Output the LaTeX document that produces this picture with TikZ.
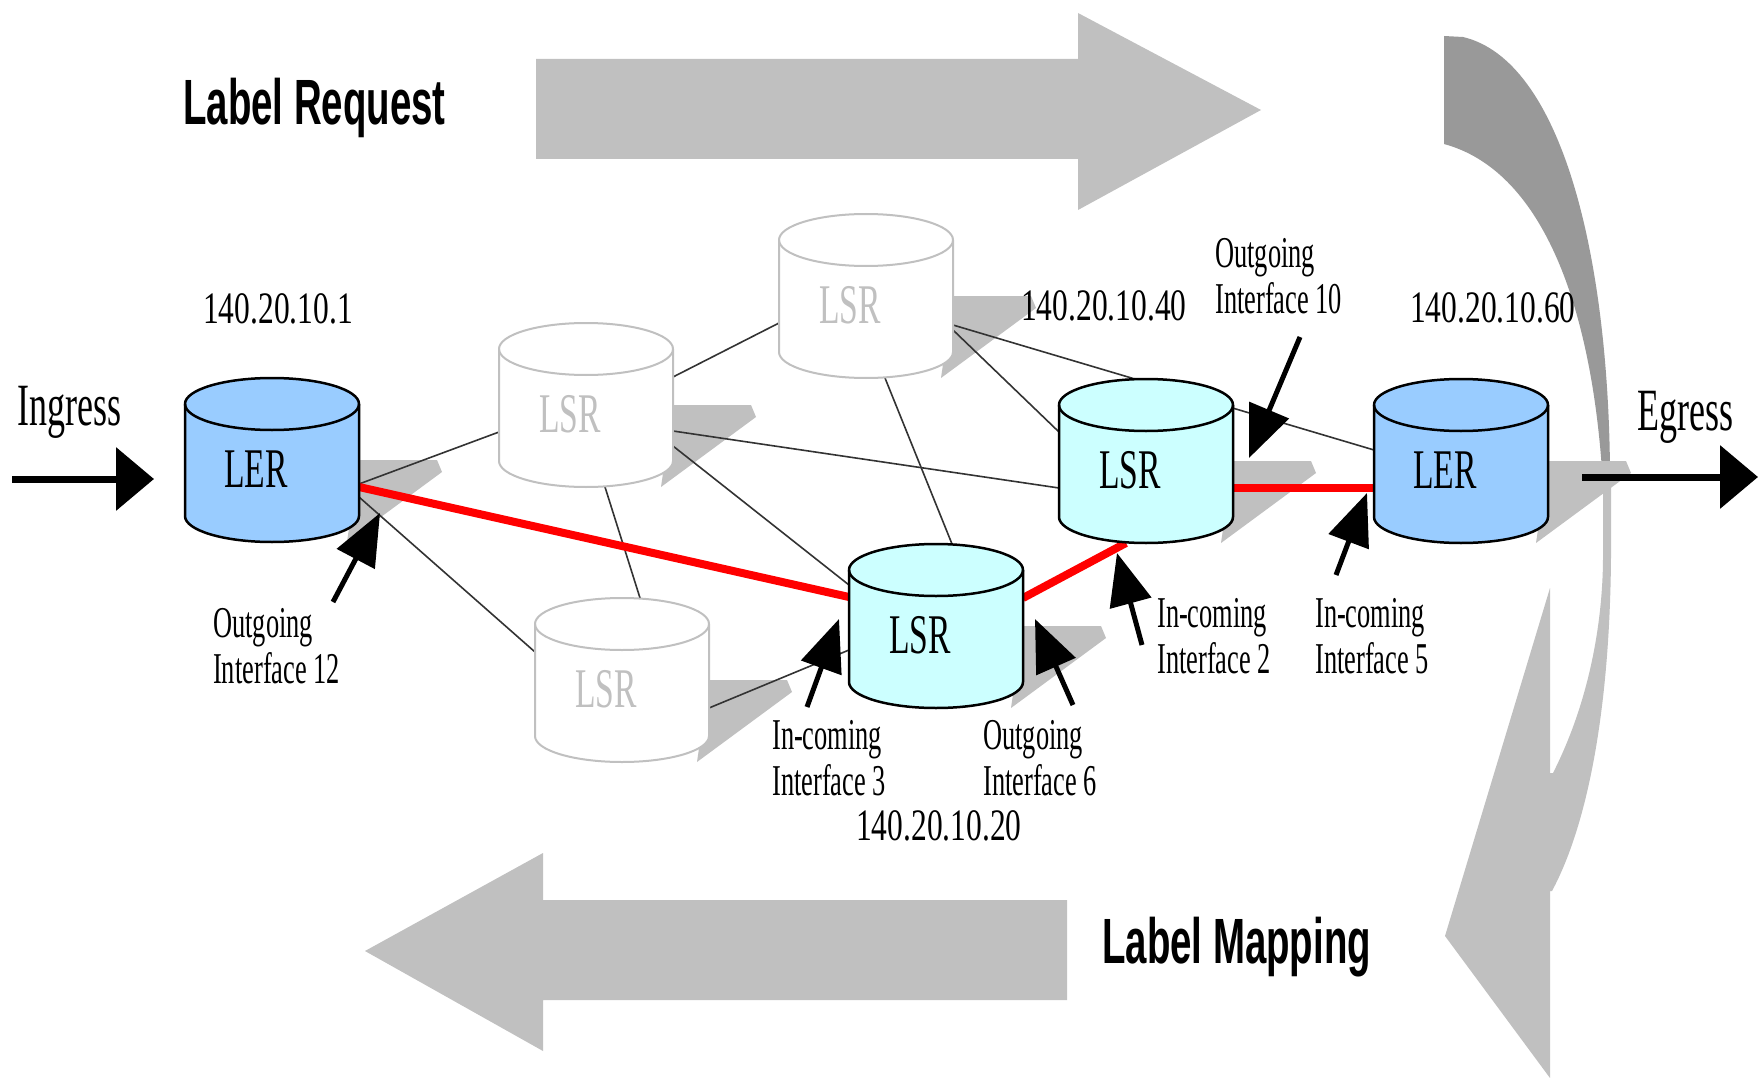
\documentclass[tikz,border=0pt]{standalone}
\usepackage{fontspec}
\usetikzlibrary{arrows.meta}

\newfontfamily\routerfont[FakeStretch=0.6]{Liberation Serif}
\newfontfamily\ipfont[FakeStretch=0.7]{Liberation Serif}
\newfontfamily\msgfont[FakeStretch=0.6]{Liberation Sans}

\definecolor{lerblue}{HTML}{99CCFF}
\definecolor{lsrcyan}{HTML}{CCFFFF}
\definecolor{shadegray}{HTML}{C0C0C0}
\definecolor{bandgray}{HTML}{999999}
\definecolor{linkred}{HTML}{FF0000}

\tikzset{
	router/.style={rectangle, minimum width=174pt, minimum height=164pt, inner sep=0pt, outer sep=0pt},
	lerdrum/.style={fill=lerblue, draw=black, line width=2.5pt},
	lsrdrum/.style={fill=lsrcyan, draw=black, line width=2.5pt},
	idledrum/.style={fill=white, draw=shadegray, line width=2pt},
	drumtext/.style={anchor=base, inner sep=0pt, font=\routerfont\fontsize{56}{60}\selectfont},
	idletext/.style={drumtext, text=shadegray},
	dropshade/.style={fill=shadegray},
	bigarrow/.style={fill=shadegray},
	link/.style={draw=black!80, line width=1.6pt},
	redlink/.style={draw=linkred, line width=8pt},
	pointer/.style={line width=5pt, -{Triangle[length=52pt, width=42pt]}},
	flow/.style={line width=7pt, -{Triangle[length=38pt, width=62pt]}},
	note/.style={anchor=base west, align=left, inner sep=0pt, font=\routerfont\fontsize{44}{46}\selectfont},
	port/.style={anchor=base west, inner sep=0pt, font=\routerfont\fontsize{60}{64}\selectfont},
	ipaddr/.style={anchor=base west, inner sep=0pt, font=\ipfont\fontsize{45}{48}\selectfont},
	msg/.style={anchor=base west, inner sep=0pt, font=\msgfont\bfseries\fontsize{64}{70}\selectfont}
}

% cylinder drawn round an (empty) router node
\newcommand{\drum}[2]{%
	\filldraw[#2] ([yshift=-26pt]#1.north west) -- ([yshift=26pt]#1.south west)
		arc[start angle=180, end angle=360, x radius=87pt, y radius=26pt]
		-- ([yshift=-26pt]#1.north east)
		arc[start angle=0, end angle=180, x radius=87pt, y radius=26pt] -- cycle;
	\draw[#2, fill=none] ([yshift=-26pt]#1.north west)
		arc[start angle=180, end angle=360, x radius=87pt, y radius=26pt];
}

\begin{document}
\begin{tikzpicture}[x=1pt, y=-1pt]
	\path[use as bounding box, fill=white] (0,0) rectangle (1759,1078);

	% routers
	\node[router] (lerIn) at (272,460) {};
	\node[router] (lsrLeft) at (586,405) {};
	\node[router] (lsrTop) at (866,296) {};
	\node[router] (lsrLow) at (622,680) {};
	\node[router] (lsrMid) at (936,626) {};
	\node[router] (lsrRight) at (1146,461) {};
	\node[router] (lerOut) at (1461,461) {};

	% request / mapping arrows
	\fill[bigarrow] (536,59) -- (1078,59) -- (1078,13) -- (1261,110) -- (1078,210) -- (1078,159) -- (536,159) -- cycle;
	\fill[bigarrow] (1067,900) -- (543,900) -- (543,853) -- (365,951) -- (543,1051) -- (543,1000) -- (1067,1000) -- cycle;
	\fill[bandgray] (1444,36) -- (1463,37) .. controls (1560,60) and (1608,250) .. (1610,470)
		-- (1602,470) .. controls (1590,300) and (1540,170) .. (1444,144) -- cycle;
	\fill[shadegray] (1603,465) -- (1611,465) -- (1611,556) .. controls (1610,700) and (1590,820) .. (1552,891)
		-- (1550,891) -- (1550,1078) -- (1445,936) -- (1550,588) -- (1550,773)
		-- (1553,773) .. controls (1590,700) and (1603,620) .. (1603,556) -- cycle;

	% shadows
	\foreach \n in {lerIn,lsrLeft,lsrTop,lsrLow,lsrMid,lsrRight,lerOut}
		\fill[dropshade] (\n.east) -- ++(78,0) -- ++(5,12) -- ([xshift=-12pt]\n.south east) -- cycle;

	% links
	\draw[link] ([yshift=-24pt]lerIn.east) -- ([yshift=-27pt]lsrLeft.west);
	\draw[link] ([yshift=-37pt]lerIn.east) -- ([yshift=28pt]lsrLow.west);
	\draw[link] ([yshift=28pt]lsrLeft.east) -- ([yshift=-27pt]lsrTop.west);
	\draw[link] ([yshift=-26pt]lsrLeft.east) -- ([yshift=-27pt]lsrRight.west);
	\draw[link] ([yshift=-41pt]lsrLeft.east) -- ([yshift=41pt]lsrMid.west);
	\draw[link] ([xshift=19pt]lsrLeft.south) -- ([xshift=18pt]lsrLow.north);
	\draw[link] ([xshift=19pt]lsrTop.south) -- ([xshift=16pt]lsrMid.north);
	\draw[link] ([yshift=-29pt]lsrTop.east) -- ([yshift=11pt]lerOut.west);
	\draw[link] ([yshift=-34pt]lsrTop.east) -- ([yshift=29pt]lsrRight.west);
	\draw[link] ([yshift=-28pt]lsrLow.east) -- ([yshift=-24pt]lsrMid.west);

	% the label switched path
	\draw[redlink] ([yshift=-27pt]lerIn.east) -- ([yshift=29pt]lsrMid.west);
	\draw[redlink] ([yshift=28pt]lsrMid.east) -- ([xshift=-20pt]lsrRight.south);
	\draw[redlink] ([yshift=-27pt]lsrRight.east) -- ([yshift=-27pt]lerOut.west);

	% cylinders
	\drum{lerIn}{lerdrum}
	\drum{lsrLeft}{idledrum}
	\drum{lsrTop}{idledrum}
	\drum{lsrLow}{idledrum}
	\drum{lsrMid}{lsrdrum}
	\drum{lsrRight}{lsrdrum}
	\drum{lerOut}{lerdrum}

	\node[drumtext] (lerIn-t) at ([xshift=-16pt,yshift=-27pt]lerIn.center) {LER};
	\node[idletext] (lsrLeft-t) at ([xshift=-16pt,yshift=-27pt]lsrLeft.center) {LSR};
	\node[idletext] (lsrTop-t) at ([xshift=-16pt,yshift=-27pt]lsrTop.center) {LSR};
	\node[idletext] (lsrLow-t) at ([xshift=-16pt,yshift=-27pt]lsrLow.center) {LSR};
	\node[drumtext] (lsrMid-t) at ([xshift=-16pt,yshift=-27pt]lsrMid.center) {LSR};
	\node[drumtext] (lsrRight-t) at ([xshift=-16pt,yshift=-27pt]lsrRight.center) {LSR};
	\node[drumtext] (lerOut-t) at ([xshift=-16pt,yshift=-27pt]lerOut.center) {LER};

	% addresses
	\node[ipaddr] (ipIn) at (203,323) {140.20.10.1};
	\node[ipaddr] (ipRight) at (1021,320) {140.20.10.40};
	\node[ipaddr] (ipOut) at (1410,322) {140.20.10.60};
	\node[ipaddr] (ipMid) at (856,840) {140.20.10.20};

	% messages
	\node[msg] (request) at (183,125) {Label Request};
	\node[msg] (mapping) at (1102,963) {Label Mapping};

	% ingress / egress
	\node[port] (ingress) at (17,425) {Ingress};
	\node[port] (egress) at (1637,430) {Egress};
	\coordinate (inTail) at (12,479);
	\coordinate (inTip) at (154,479);
	\coordinate (outTail) at (1582,477);
	\coordinate (outTip) at (1758,477);
	\draw[flow] (inTail) -- (inTip);
	\draw[flow] (outTail) -- (outTip);

	% interfaces (base = last line)
	\node[note] (if12) at (213,683) {Outgoing\\Interface 12};
	\node[note] (if3) at (772,795) {In-coming\\Interface 3};
	\node[note] (if6) at (983,795) {Outgoing\\Interface 6};
	\node[note] (if2) at (1157,673) {In-coming\\Interface 2};
	\node[note] (if5) at (1315,673) {In-coming\\Interface 5};
	\node[note] (if10) at (1215,313) {Outgoing\\Interface 10};

	\coordinate (p12) at (333,602);
	\coordinate (p3) at (807,707);
	\coordinate (p6) at (1073,705);
	\coordinate (p2) at (1142,645);
	\coordinate (p5) at (1336,575);
	\coordinate (p10) at (1300,337);
	\draw[pointer] (p12) -- ([xshift=21pt,yshift=29pt]lerIn.south east);
	\draw[pointer] (p3) -- ([xshift=-10pt,yshift=7pt]lsrMid.west);
	\draw[pointer] (p6) -- ([xshift=12pt,yshift=7pt]lsrMid.east);
	\draw[pointer] (p2) -- ([xshift=-29pt,yshift=-10pt]lsrRight.south);
	\draw[pointer] (p5) -- ([xshift=-7pt,yshift=-32pt]lerOut.west);
	\draw[pointer] (p10) -- ([xshift=16pt,yshift=3pt]lsrRight.east);
\end{tikzpicture}
\end{document}
